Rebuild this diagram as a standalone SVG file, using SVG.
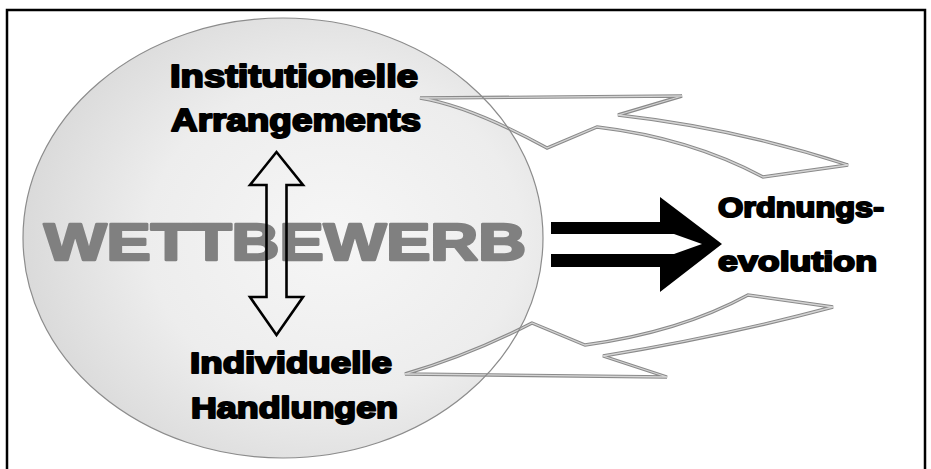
<svg xmlns="http://www.w3.org/2000/svg" width="931" height="469" viewBox="0 0 931 469">
<defs>
<radialGradient id="eg" cx="0.6" cy="0.5" r="0.6">
<stop offset="0" stop-color="#f6f6f6"/>
<stop offset="0.6" stop-color="#ededed"/>
<stop offset="1" stop-color="#dadada"/>
</radialGradient>
<style>
.lbl{font-family:"Liberation Sans",Arial,sans-serif;font-weight:bold;fill:#000;stroke:#000;stroke-width:2;stroke-linejoin:round;}
.big{font-family:"Liberation Sans",Arial,sans-serif;font-weight:bold;fill:#808080;stroke:#808080;stroke-width:2.6;stroke-linejoin:round;}
.fb{fill:#fff;stroke:#8a8a8a;stroke-width:3.4;stroke-linejoin:miter;}
.fbi{fill:none;stroke:#d4d4d4;stroke-width:1.3;stroke-linejoin:miter;}
</style>
</defs>
<rect x="0" y="0" width="931" height="469" fill="#fff"/>
<rect x="7" y="10" width="918" height="470" fill="none" stroke="#000" stroke-width="2.5"/>
<g id="wettbewerb">
<ellipse cx="283" cy="238" rx="260" ry="220" fill="url(#eg)"/>
</g>
<g id="connectors">
<g id="feedback-top">
<path class="fb" d="M420,98 L682,96 L618,115 Q735,128 848,165 L763,177 Q690,138 597,127 L547,148 Q470,106 420,98 Z"/>
<path class="fbi" d="M420,98 L682,96 L618,115 Q735,128 848,165 L763,177 Q690,138 597,127 L547,148 Q470,106 420,98 Z"/>
</g>
<g id="feedback-bottom">
<path class="fb" d="M405,374 L667,377 L603,356 Q720,337 833,307 L748,295 Q680,332 585,345 L532,323 Q470,355 405,374 Z"/>
<path class="fbi" d="M405,374 L667,377 L603,356 Q720,337 833,307 L748,295 Q680,332 585,345 L532,323 Q470,355 405,374 Z"/>
</g>
<path id="main-arrow" d="M551,222 H660 V197 L722,244 L660,292 V267 H551 V254 H674 L702,244 L674,234 H551 Z" fill="#000"/>
</g>
<ellipse cx="283" cy="238" rx="260" ry="220" fill="none" stroke="#8c8c8c" stroke-width="1.2"/>
<text class="big" x="44" y="260" font-size="52" textLength="482" lengthAdjust="spacingAndGlyphs">WETTBEWERB</text>
<path id="updown" d="M276.5,152 L303,185 H286.5 V297 H303 L276.5,335 L250,297 H266.5 V185 H250 Z" fill="none" stroke="#000" stroke-width="2.6" stroke-linejoin="miter"/>
<g id="inst">
<text class="lbl" x="170" y="87" font-size="31" textLength="248" lengthAdjust="spacingAndGlyphs">Institutionelle</text>
<text class="lbl" x="171" y="131" font-size="31" textLength="250" lengthAdjust="spacingAndGlyphs">Arrangements</text>
</g>
<g id="indiv">
<text class="lbl" x="190" y="373" font-size="30" textLength="202" lengthAdjust="spacingAndGlyphs">Individuelle</text>
<text class="lbl" x="191" y="418" font-size="30" textLength="207" lengthAdjust="spacingAndGlyphs">Handlungen</text>
</g>
<g id="ordnung">
<text class="lbl" x="718" y="217" font-size="28" textLength="166" lengthAdjust="spacingAndGlyphs">Ordnungs-</text>
<text class="lbl" x="718" y="271" font-size="28" textLength="159" lengthAdjust="spacingAndGlyphs">evolution</text>
</g>
</svg>
